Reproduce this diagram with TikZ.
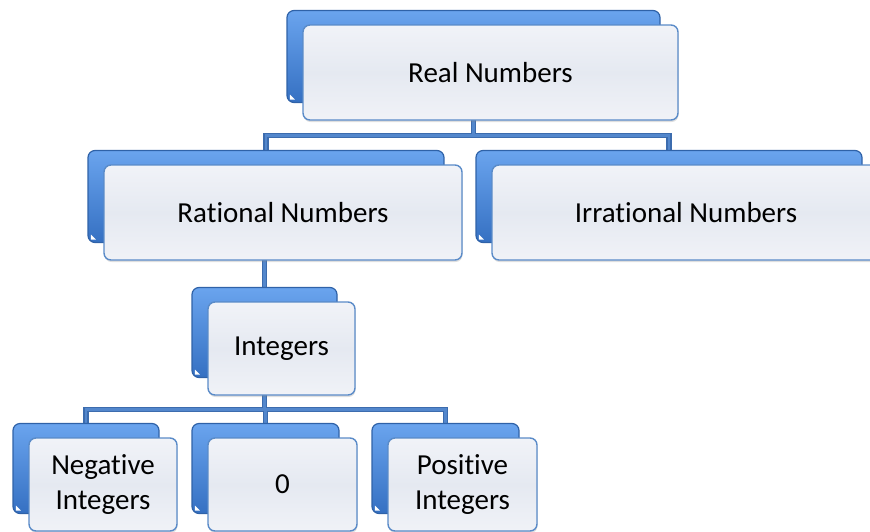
\documentclass[tikz,border=0pt]{standalone}
\usepackage{fontspec}
\setmainfont{Carlito}[Ligatures={NoCommon}]
\usetikzlibrary{backgrounds,calc,shadows}
\definecolor{bluetop}{HTML}{6AA4EE}
\definecolor{bluebot}{HTML}{3570C2}
\definecolor{blueedge}{HTML}{2F62A8}
\definecolor{fronttop}{HTML}{F1F3F8}
\definecolor{frontmid}{HTML}{E5E9F1}
\definecolor{frontbot}{HTML}{F0F2F7}
\definecolor{frontedge}{HTML}{5A8BC8}
\definecolor{connedge}{HTML}{3C6CAE}
\definecolor{conninner}{HTML}{5387CC}
\newcommand\twobox[6]{%
  \pgfmathsetmacro\fw{#4-#2}\pgfmathsetmacro\fh{#5-#3}%
  \pgfmathsetmacro\fx{(#2+#4)/2}\pgfmathsetmacro\fy{(#3+#5)/2}%
  \pgfmathsetmacro\bw{\fw-2}\pgfmathsetmacro\bh{\fh-3}%
  \node[backbox, minimum width=\bw pt, minimum height=\bh pt] (#1b) at (\fx-17,\fy-16) {};
  \fill[white] ($(#1b.south west)+(3.5,-3.5)$) -- ++(0,-5) -- ++(5,5) -- cycle;
  \node[frontbox, minimum width=\fw pt, minimum height=\fh pt] (#1) at (\fx,\fy) {#6};
}
\begin{document}
\begin{tikzpicture}[x=1pt,y=-1pt,
  backbox/.style={draw=blueedge, line width=1.2pt, rounded corners=7pt,
    top color=bluetop, bottom color=bluebot, inner sep=0pt},
  frontbox/.style={draw=frontedge, line width=1.4pt, rounded corners=7pt,
    top color=fronttop, bottom color=frontbot, middle color=frontmid,
    inner sep=0pt, align=center, text=black,
    font=\fontsize{29}{35}\selectfont,
    drop shadow={opacity=0.25, shadow xshift=0.5pt, shadow yshift=-2pt}},
  conn/.style={draw=connedge, line width=5.5pt},
  connin/.style={draw=conninner, line width=2.5pt}]
\useasboundingbox (0,0) rectangle (870,531);
\clip (0,0) rectangle (870,531);

\twobox{real}{303}{25}{678}{120}{Real Numbers}
\twobox{rat}{104}{165}{462}{260}{Rational Numbers}
\twobox{irr}{492}{165}{880}{260}{Irrational Numbers}
\twobox{int}{208}{302}{355}{395}{Integers}
\twobox{neg}{29}{438}{177}{531}{Negative\\Integers}
\twobox{zero}{208}{438}{357}{531}{0}
\twobox{pos}{388}{438}{537}{531}{Positive\\Integers}

\coordinate (j1) at ($(realb.south |- real.south)!0.5!(realb.south |- ratb.north)$);
\coordinate (j2) at ($(intb.south |- int.south)!0.5!(intb.south |- negb.north)$);

\begin{pgfonlayer}{background}
  \foreach \s in {conn,connin}{
    \draw[\s] (realb.south) -- (j1);
    \draw[\s] (ratb.north) |- (j1) -| (irrb.north);
    \draw[\s] (intb.north) -- (intb.north |- ratb.south);
    \draw[\s] (intb.south) -- (j2);
    \draw[\s] (negb.north) |- (j2) -| (posb.north);
    \draw[\s] (zerob.north) -- (zerob.north |- j2);
  }
\end{pgfonlayer}
\end{tikzpicture}
\end{document}
